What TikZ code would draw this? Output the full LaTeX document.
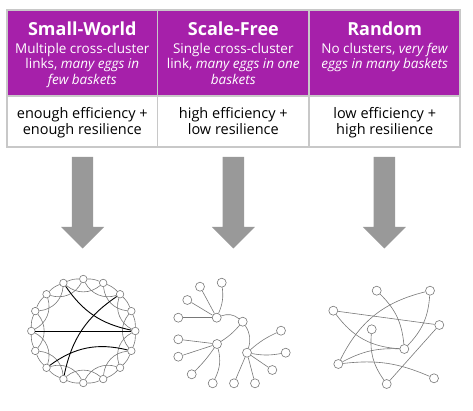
\documentclass[tikz,border=0pt]{standalone}
\usepackage{fontspec}
\setmainfont{Open Sans}
\definecolor{purp}{RGB}{166,32,170}
\definecolor{bordergray}{RGB}{200,200,200}
\definecolor{arrowgray}{RGB}{153,153,153}
\definecolor{edgegray}{RGB}{120,120,120}
\begin{document}
\begin{tikzpicture}[x=1pt,y=-1pt,
  ttl/.style={anchor=base,text=white,font=\fontsize{18}{20}\selectfont\bfseries,inner sep=0pt},
  sub/.style={anchor=base,text=white,font=\fontsize{13.5}{16}\selectfont,inner sep=0pt},
  low/.style={anchor=base,text=black,font=\fontsize{14.5}{17}\selectfont,inner sep=0pt},
  grid/.style={draw=bordergray,line width=1.2pt},
  bigarrow/.style={fill=arrowgray},
  vtx/.style={circle,draw=edgegray,fill=white,line width=0.6pt,inner sep=0pt,minimum size=#1},
  vtx/.default=7.5pt,
  ed/.style={draw=edgegray,line width=0.6pt},
  far/.style={draw=black,line width=0.9pt}]
\useasboundingbox (0,0) rectangle (473,411);
% table
\fill[purp] (7,10) rectangle (460,96);
\draw[grid] (7,10) rectangle (460,147);
\draw[grid] (7,96) -- (460,96);
\draw[grid] (157.5,10) -- (157.5,147);
\draw[grid] (309,10) -- (309,147);
% column 1
\node[ttl] (t1) at (82.3,35.7) {Small-World};
\node[sub] (a1) at (82.3,53.3) {Multiple cross-cluster};
\node[sub] (a2) at (82.3,68.8) {links, \textit{many eggs in}};
\node[sub] (a3) at (82.3,84.3) {\textit{few baskets}};
\node[low] (l1) at (82.3,118.3) {enough efficiency +};
\node[low] (l2) at (82.3,135) {enough resilience};
% column 2
\node[ttl] (t2) at (233.3,35.7) {Scale-Free};
\node[sub] (b1) at (233.3,53.3) {Single cross-cluster};
\node[sub] (b2) at (233.3,68.8) {link, \textit{many eggs in one}};
\node[sub] (b3) at (233.3,84.3) {\textit{baskets}};
\node[low] (m1) at (233.3,118.3) {high efficiency +};
\node[low] (m2) at (233.3,135) {low resilience};
% column 3
\node[ttl] (t3) at (384.7,35.7) {Random};
\node[sub] (c1) at (384.7,53.3) {No clusters, \textit{very few}};
\node[sub] (c2) at (384.7,68.8) {\textit{eggs in many baskets}};
\node[low] (r1) at (384.7,118.3) {low efficiency +};
\node[low] (r2) at (384.7,135) {high resilience};
% arrows
\foreach \cx in {82.5,233.3,384.3}{
  \fill[bigarrow] (\cx-10.7,157) -- (\cx+10.7,157) -- (\cx+10.7,227) -- (\cx+21.5,227)
     -- (\cx,248.5) -- (\cx-21.5,227) -- (\cx-10.7,227) -- cycle;
}
% small world
\foreach \k in {0,...,15}{
  \node[vtx=7.5pt] (s\k) at ({83.3+52*cos(\k*22.5)},{331-52*sin(\k*22.5)}) {};
}
\foreach \k in {0,...,15}{
  \pgfmathtruncatemacro{\na}{mod(\k+1,16)}
  \pgfmathtruncatemacro{\nb}{mod(\k+2,16)}
  \draw[ed] (s\k) to[bend right=12] (s\na);
  \draw[ed] (s\k) to[bend left=40] (s\nb);
}
\draw[far] (s5) to[bend right=22] (s0);
\draw[far] (s8) -- (s0);
\draw[far] (s2) to[bend right=22] (s11);
\draw[far] (s10) to[bend left=25] (s15);
% scale free
\node[vtx=9pt] (fA) at (216.7,317.7) {};
\node[vtx=9pt] (fB) at (242.7,321.7) {};
\node[vtx=9pt] (fC) at (217,344) {};
\node[vtx=9pt] (fD) at (247,352.7) {};
\node[vtx=9pt] (a1l) at (221.7,282.7) {};
\node[vtx=9pt] (a2l) at (200,286.7) {};
\node[vtx=9pt] (a3l) at (187.3,300) {};
\node[vtx=9pt] (a4l) at (178.3,317.7) {};
\node[vtx=9pt] (c1l) at (178.3,339.3) {};
\node[vtx=9pt] (c2l) at (178.3,356.7) {};
\node[vtx=9pt] (c3l) at (191.7,374.3) {};
\node[vtx=9pt] (c4l) at (212.7,383.3) {};
\node[vtx=9pt] (d1l) at (281,330.7) {};
\node[vtx=9pt] (d2l) at (285.7,352.7) {};
\node[vtx=9pt] (d3l) at (272.3,370) {};
\node[vtx=9pt] (d4l) at (255,383.3) {};
\node[vtx=9pt] (d5l) at (234,383.3) {};
\draw[ed] (fA) to[bend left=30] (fB);
\draw[ed] (fB) to[bend left=8] (fC);
\draw[ed] (fB) to[bend left=25] (fD);
\draw[ed] (fA) to[bend right=15] (a1l);
\draw[ed] (fA) -- (a2l);
\draw[ed] (fA) -- (a3l);
\draw[ed] (fA) -- (a4l);
\draw[ed] (fC) -- (c1l);
\draw[ed] (fC) -- (c2l);
\draw[ed] (fC) to[bend left=5] (c3l);
\draw[ed] (fC) to[bend left=20] (c4l);
\draw[ed] (fD) to[bend left=8] (d1l);
\draw[ed] (fD) to[bend right=10] (d2l);
\draw[ed] (fD) -- (d3l);
\draw[ed] (fD) -- (d4l);
\draw[ed] (fD) -- (d5l);
% random
\node[vtx=9pt] (n1) at (376.7,290.7) {};
\node[vtx=9pt] (n2) at (430,290.7) {};
\node[vtx=9pt] (n3) at (333.3,310.7) {};
\node[vtx=9pt] (n4) at (439.3,325) {};
\node[vtx=9pt] (n5) at (371.7,329.3) {};
\node[vtx=9pt] (n6) at (404.3,349) {};
\node[vtx=9pt] (n7) at (338.3,364) {};
\node[vtx=9pt] (n8) at (434,378.3) {};
\node[vtx=9pt] (n9) at (386.7,384) {};
\draw[ed] (n1) to[bend left=20] (n6);
\draw[ed] (n2) to[bend left=20] (n6);
\draw[ed] (n2) to[bend right=25] (n7);
\draw[ed] (n3) -- (n4);
\draw[ed] (n3) to[bend right=25] (n6);
\draw[ed] (n5) to[bend right=20] (n9);
\draw[ed] (n7) to[bend left=15] (n6);
\draw[ed] (n7) to[bend left=15] (n8);
\draw[ed] (n9) -- (n4);
\end{tikzpicture}
\end{document}
